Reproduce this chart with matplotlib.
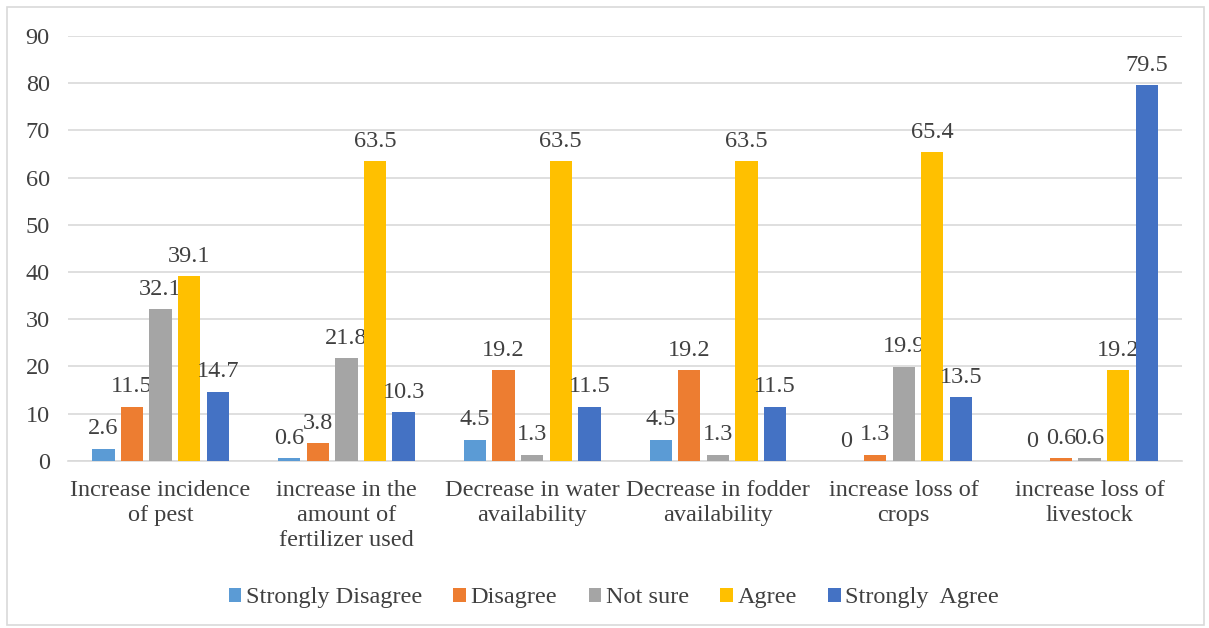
import numpy as np
import matplotlib.pyplot as plt
from matplotlib.patches import Rectangle

# categories and series values
categories = ["Increase incidence\nof pest", "increase in the\namount of\nfertilizer used",
              "Decrease in water\navailability", "Decrease in fodder\navailability",
              "increase loss of\ncrops", "increase loss of\nlivestock"]
strongly_disagree = [2.6, 0.6, 4.5, 4.5, 0, 0]
disagree = [11.5, 3.8, 19.2, 19.2, 1.3, 0.6]
not_sure = [32.1, 21.8, 1.3, 1.3, 19.9, 0.6]
agree = [39.1, 63.5, 63.5, 63.5, 65.4, 19.2]
strongly_agree = [14.7, 10.3, 11.5, 11.5, 13.5, 79.5]

series = [("Strongly Disagree", strongly_disagree, "#5B9BD5"),
          ("Disagree", disagree, "#ED7D31"),
          ("Not sure", not_sure, "#A5A5A5"),
          ("Agree", agree, "#FFC000"),
          ("Strongly  Agree", strongly_agree, "#4472C4")]

plt.rcParams['font.family'] = ['Liberation Serif', 'DejaVu Serif']
txt = "#404040"
fs = 17.5

fig = plt.figure(figsize=(12.09, 6.28), dpi=100)
ax = fig.add_axes([0.056, 0.266, 0.922, 0.677])

# outer frame of the chart
fig.patches.append(Rectangle((0.006, 0.005), 0.99, 0.984, transform=fig.transFigure,
                             fill=False, edgecolor="#D9D9D9", linewidth=1.2))

x = np.arange(len(categories))
step = 0.154
width = 0.12
for i, (name, vals, col) in enumerate(series):
    pos = x + (i - 2) * step
    bars = ax.bar(pos, vals, width, color=col, label=name, zorder=3)
    for b, v in zip(bars, vals):
        ax.text(b.get_x() + b.get_width() / 2, v + 2.0, f"{v:g}", ha="center", va="bottom",
                fontsize=fs, color=txt)

ax.set_xlim(-0.5, len(categories) - 0.5)
ax.set_ylim(0, 90)
ax.set_yticks(range(0, 91, 10))
ax.yaxis.grid(True, color="#D9D9D9", linewidth=1.2, zorder=0)
ax.set_axisbelow(True)
for s in ["top", "right", "left"]:
    ax.spines[s].set_visible(False)
ax.spines["bottom"].set_color("#D9D9D9")
ax.spines["bottom"].set_linewidth(1.2)
ax.tick_params(axis="both", length=0, labelsize=fs, colors=txt)
ax.set_xticks(x)
ax.set_xticklabels(categories, va="top", linespacing=1.25)
ax.tick_params(axis="x", pad=14)
ax.tick_params(axis="y", pad=13)

ax.legend(loc="center", bbox_to_anchor=(0.49, -0.322), ncol=5, frameon=False,
          fontsize=fs, labelcolor=txt, handlelength=0.5, handleheight=0.5,
          handletextpad=0.2, columnspacing=1.3)

plt.savefig("out.png", dpi=100)
